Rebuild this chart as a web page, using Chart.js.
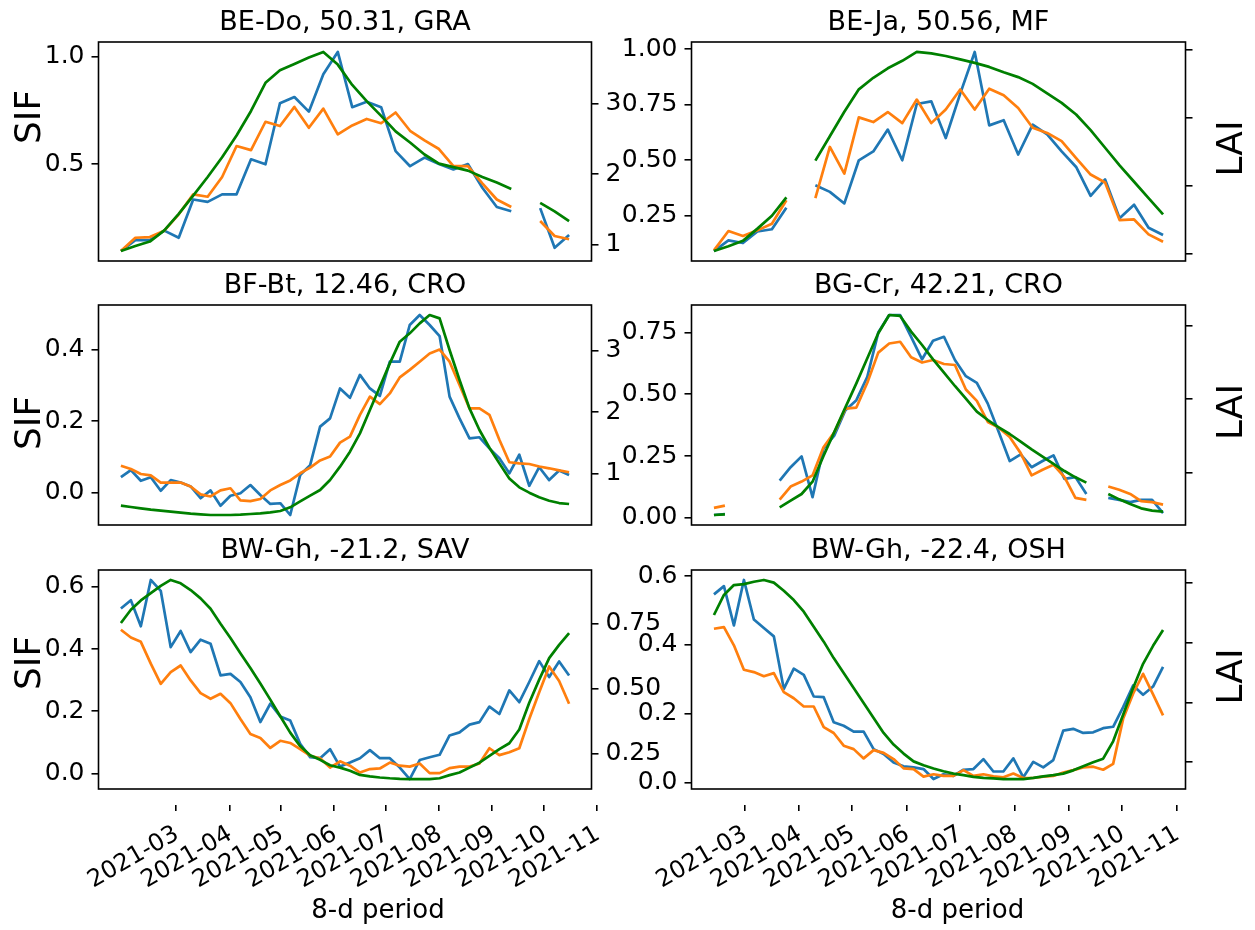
<!DOCTYPE html>
<html>
<head>
<meta charset="utf-8">
<script src="https://cdn.jsdelivr.net/npm/chart.js"></script>
<style>
  body { margin: 0; background: #fff; }
  #fig { position: relative; width: 1255px; height: 930px; overflow: hidden; background: #fff; }
  #fig canvas { position: absolute; }
</style>
</head>
<body>
<div id="fig"></div>
<script>
// ---- data: one value per 8-day period, null = missing ----
// BE-Do, 50.31, GRA
const BEDO_SIF1 = [0.095,0.146,0.146,0.19,0.157,0.335,0.324,0.359,0.359,0.522,0.499,0.783,0.812,0.744,0.918,1.022,0.765,0.79,0.765,0.56,0.49,0.53,0.50,0.475,0.50,0.39,0.30,0.28,null,0.295,0.11,0.17];
const BEDO_SIF2 = [0.095,0.157,0.16,0.19,0.266,0.359,0.348,0.44,0.584,0.565,0.697,0.677,0.766,0.669,0.758,0.638,0.68,0.71,0.69,0.74,0.655,0.61,0.57,0.49,0.49,0.41,0.335,0.30,null,0.235,0.165,0.15];
const BEDO_LAI  = [0.905,0.976,1.04,1.20,1.435,1.695,1.96,2.24,2.55,2.90,3.30,3.48,3.57,3.66,3.74,3.56,3.27,3.04,2.83,2.61,2.45,2.28,2.15,2.10,2.05,1.96,1.88,1.79,null,1.59,1.47,1.33];

// BE-Ja, 50.56, MF
const BEJA_SIF1 = [0.092,0.14,0.128,0.18,0.19,0.287,null,0.388,0.358,0.306,0.50,0.54,0.638,0.50,0.753,0.765,0.60,0.80,0.987,0.657,0.68,0.526,0.66,0.616,0.54,0.47,0.34,0.414,0.239,0.30,0.197,0.164];
const BEJA_SIF2 = [0.095,0.182,0.16,0.185,0.215,0.32,null,0.33,0.56,0.44,0.693,0.672,0.717,0.667,0.773,0.667,0.728,0.818,0.728,0.822,0.792,0.735,0.646,0.623,0.586,0.51,0.436,0.40,0.231,0.234,0.167,0.134];
const BEJA_LAI  = [1.04,1.11,1.19,1.37,1.56,1.83,null,2.37,2.73,3.09,3.42,3.59,3.73,3.84,3.97,3.95,3.91,3.86,3.81,3.75,3.67,3.60,3.50,3.36,3.22,3.05,2.82,2.56,2.30,2.06,1.82,1.58];

// BF-Bt, 12.46, CRO
const BFBT_SIF1 = [0.043,0.063,0.033,0.043,0.005,0.035,0.028,0.017,-0.016,0.006,-0.037,-0.009,-0.002,0.021,-0.007,-0.032,-0.030,-0.063,0.049,0.077,0.185,0.208,0.292,0.266,0.330,0.292,0.271,0.367,0.367,0.470,0.498,0.470,0.439,0.269,0.208,0.152,0.155,0.124,0.096,0.054,0.106,0.019,0.071,0.035,0.062,0.049];
const BFBT_SIF2 = [0.075,0.066,0.052,0.048,0.028,0.028,0.028,0.017,-0.005,-0.011,0.006,0.012,-0.022,-0.024,-0.018,0.006,0.021,0.034,0.054,0.070,0.090,0.101,0.140,0.157,0.218,0.269,0.248,0.278,0.323,0.344,0.367,0.390,0.401,0.367,0.302,0.236,0.236,0.218,0.148,0.085,0.082,0.080,0.073,0.068,0.062,0.057];
const BFBT_LAI  = [0.473,0.451,0.429,0.408,0.391,0.375,0.359,0.342,0.332,0.321,0.321,0.321,0.326,0.337,0.348,0.364,0.386,0.446,0.543,0.636,0.728,0.891,1.109,1.353,1.652,2.033,2.413,2.793,3.147,3.283,3.446,3.582,3.527,3.011,2.522,2.060,1.707,1.418,1.163,0.918,0.772,0.685,0.609,0.554,0.516,0.500];

// BG-Cr, 42.21, CRO
const BGCR_SIF1 = [0.012,0.016,null,null,null,null,0.151,0.205,0.249,0.084,0.280,0.334,0.435,0.476,0.570,0.749,0.820,0.820,0.732,0.641,0.716,0.732,0.638,0.573,0.546,0.462,0.347,0.230,0.257,0.205,0.230,0.253,0.158,0.165,0.097,null,0.081,0.073,0.064,0.073,0.073,0.020];
const BGCR_SIF2 = [0.041,0.050,null,null,null,null,0.074,0.127,0.147,0.172,0.286,0.347,0.442,0.446,0.546,0.668,0.705,0.712,0.649,0.628,0.638,0.622,0.618,0.519,0.473,0.388,0.365,0.327,0.262,0.172,0.195,0.215,0.165,0.081,0.073,null,0.127,0.114,0.097,0.068,0.064,0.054];
const BGCR_LAI  = [0.417,0.426,null,null,null,null,0.522,0.613,0.704,0.872,1.223,1.556,1.888,2.216,2.558,2.900,3.150,3.137,2.923,2.740,2.544,2.362,2.180,2.007,1.829,1.715,1.615,1.524,1.419,1.314,1.214,1.114,1.018,0.932,0.859,null,0.704,0.631,0.567,0.508,0.476,0.462];

// BW-Gh, -21.2, SAV
const BWSAV_SIF1 = [0.530,0.557,0.473,0.622,0.587,0.406,0.458,0.390,0.430,0.417,0.315,0.320,0.294,0.245,0.165,0.224,0.183,0.170,0.095,0.052,0.049,0.078,0.022,0.035,0.049,0.075,0.049,0.049,0.019,-0.018,0.043,0.052,0.060,0.122,0.132,0.157,0.165,0.215,0.191,0.267,0.229,0.294,0.361,0.310,0.360,0.315];
const BWSAV_SIF2 = [0.462,0.437,0.423,0.353,0.288,0.326,0.347,0.299,0.258,0.240,0.256,0.226,0.175,0.127,0.114,0.082,0.105,0.098,0.078,0.057,0.049,0.019,0.039,0.025,0.003,0.014,0.016,0.035,0.025,0.022,0.032,0.001,0.001,0.017,0.022,0.022,0.032,0.081,0.059,0.068,0.081,0.175,0.261,0.344,0.297,0.224];
const BWSAV_LAI  = [0.753,0.804,0.840,0.868,0.896,0.919,0.906,0.880,0.848,0.808,0.750,0.695,0.637,0.580,0.520,0.458,0.394,0.331,0.279,0.244,0.226,0.205,0.196,0.184,0.168,0.162,0.158,0.155,0.153,0.152,0.152,0.152,0.155,0.167,0.177,0.196,0.215,0.241,0.267,0.290,0.343,0.446,0.535,0.618,0.669,0.714];

// BW-Gh, -22.4, OSH
const BWOSH_SIF1 = [0.547,0.571,0.457,0.589,0.474,0.449,0.425,0.272,0.331,0.313,0.250,0.248,0.175,0.165,0.148,0.148,0.097,0.083,0.058,0.047,0.044,0.039,0.010,0.024,0.019,0.037,0.039,0.068,0.032,0.032,0.070,0.015,0.060,0.044,0.065,0.151,0.156,0.144,0.146,0.158,0.162,0.219,0.282,0.255,0.279,0.336];
const BWOSH_SIF2 = [0.447,0.452,0.399,0.328,0.321,0.309,0.318,0.263,0.245,0.221,0.221,0.161,0.144,0.107,0.097,0.070,0.094,0.086,0.068,0.041,0.039,0.017,0.024,0.019,0.019,0.036,0.019,0.024,0.018,0.015,0.026,0.013,0.013,0.017,0.019,0.029,0.036,0.044,0.046,0.037,0.054,0.185,0.258,0.316,0.256,0.195];
const BWOSH_LAI  = [0.692,0.759,0.792,0.795,0.803,0.809,0.80,0.773,0.742,0.703,0.653,0.603,0.548,0.498,0.448,0.398,0.348,0.298,0.259,0.229,0.203,0.190,0.179,0.170,0.162,0.157,0.151,0.148,0.146,0.144,0.144,0.144,0.148,0.153,0.157,0.162,0.173,0.187,0.200,0.212,0.270,0.359,0.448,0.529,0.589,0.642];

// ---- tick values and labels ----
const BEDO_SIF_TICKS = [0.5, 1.0],              BEDO_SIF_LABELS = ['0.5', '1.0'];
const BEDO_LAI_TICKS = [1, 2, 3],               BEDO_LAI_LABELS = ['1', '2', '3'];
const BEJA_SIF_TICKS = [0.25, 0.5, 0.75, 1.0],  BEJA_SIF_LABELS = ['0.25', '0.50', '0.75', '1.00'];
const BEJA_LAI_TICKS = [1, 2, 3, 4];
const BFBT_SIF_TICKS = [0, 0.2, 0.4],           BFBT_SIF_LABELS = ['0.0', '0.2', '0.4'];
const BFBT_LAI_TICKS = [1, 2, 3],               BFBT_LAI_LABELS = ['1', '2', '3'];
const BGCR_SIF_TICKS = [0, 0.25, 0.5, 0.75],    BGCR_SIF_LABELS = ['0.00', '0.25', '0.50', '0.75'];
const BGCR_LAI_TICKS = [1, 2, 3];
const BWSAV_SIF_TICKS = [0, 0.2, 0.4, 0.6],     BWSAV_SIF_LABELS = ['0.0', '0.2', '0.4', '0.6'];
const BWSAV_LAI_TICKS = [0.25, 0.5, 0.75],      BWSAV_LAI_LABELS = ['0.25', '0.50', '0.75'];
const BWOSH_SIF_TICKS = [0, 0.2, 0.4, 0.6],     BWOSH_SIF_LABELS = ['0.0', '0.2', '0.4', '0.6'];
const BWOSH_LAI_TICKS = [0.2, 0.4, 0.6, 0.8];

// date axis: days after 2021-03-01
const DATE_TICKS = [0, 31, 61, 92, 122, 153, 184, 214, 245];
const DATE_LABELS = ['2021-03', '2021-04', '2021-05', '2021-06', '2021-07', '2021-08', '2021-09', '2021-10', '2021-11'];

// ---- layout ----
const COLS = [
  { x: 0,   w: 690, boxL: 98.5,  boxR: 591.5 },
  { x: 600, w: 655, boxL: 691.5, boxR: 1185.5 }
];
const ROWS = [
  { top: 42,  bottom: 261, sifY: 117 },
  { top: 305, bottom: 525, sifY: 423 },
  { top: 570, bottom: 789, sifY: 663 }
];
const TITLE_H = 42, BOTTOM_PAD = 16;
const FONT = 'DejaVu Sans';
const TICK_SIZE = 25;

Chart.defaults.font.family = FONT;
Chart.defaults.color = '#000';

const PANELS = [
  { title: 'BE-Do, 50.31, GRA', col: 0, row: 0, s1: BEDO_SIF1, s2: BEDO_SIF2, lai: BEDO_LAI,
    sifTicks: BEDO_SIF_TICKS, sifLabels: BEDO_SIF_LABELS, laiTicks: BEDO_LAI_TICKS, laiLabels: BEDO_LAI_LABELS },
  { title: 'BE-Ja, 50.56, MF', col: 1, row: 0, s1: BEJA_SIF1, s2: BEJA_SIF2, lai: BEJA_LAI,
    sifTicks: BEJA_SIF_TICKS, sifLabels: BEJA_SIF_LABELS, laiTicks: BEJA_LAI_TICKS, laiLabels: null },
  { title: 'BF-Bt, 12.46, CRO', col: 0, row: 1, s1: BFBT_SIF1, s2: BFBT_SIF2, lai: BFBT_LAI,
    sifTicks: BFBT_SIF_TICKS, sifLabels: BFBT_SIF_LABELS, laiTicks: BFBT_LAI_TICKS, laiLabels: BFBT_LAI_LABELS },
  { title: 'BG-Cr, 42.21, CRO', col: 1, row: 1, s1: BGCR_SIF1, s2: BGCR_SIF2, lai: BGCR_LAI,
    sifTicks: BGCR_SIF_TICKS, sifLabels: BGCR_SIF_LABELS, laiTicks: BGCR_LAI_TICKS, laiLabels: null },
  { title: 'BW-Gh, -21.2, SAV', col: 0, row: 2, s1: BWSAV_SIF1, s2: BWSAV_SIF2, lai: BWSAV_LAI,
    sifTicks: BWSAV_SIF_TICKS, sifLabels: BWSAV_SIF_LABELS, laiTicks: BWSAV_LAI_TICKS, laiLabels: BWSAV_LAI_LABELS },
  { title: 'BW-Gh, -22.4, OSH', col: 1, row: 2, s1: BWOSH_SIF1, s2: BWOSH_SIF2, lai: BWOSH_LAI,
    sifTicks: BWOSH_SIF_TICKS, sifLabels: BWOSH_SIF_LABELS, laiTicks: BWOSH_LAI_TICKS, laiLabels: null }
];

// matplotlib-like autoscale: data range plus 5% each side
function padRange(arrs) {
  const v = arrs.flat().filter(x => x !== null);
  const lo = Math.min(...v), hi = Math.max(...v), m = (hi - lo) * 0.05;
  return [lo - m, hi + m];
}
const toXY = arr => arr.map((y, i) => ({ x: i, y: y }));

const framePlugin = {
  id: 'frame',
  afterDatasetsDraw(chart) {
    const { ctx, chartArea: a } = chart;
    ctx.save();
    ctx.strokeStyle = '#000';
    ctx.lineWidth = 1.6;
    ctx.strokeRect(a.left, a.top, a.right - a.left, a.bottom - a.top);
    ctx.restore();
  }
};

// vertical axis names (both read bottom-to-top)
const sideLabelPlugin = {
  id: 'sideLabel',
  afterDraw(chart, args, opts) {
    if (!opts.text) return;
    const ctx = chart.ctx;
    ctx.save();
    ctx.font = '36px "' + FONT + '"';
    ctx.fillStyle = '#000';
    ctx.textAlign = 'center';
    ctx.textBaseline = 'middle';
    ctx.translate(opts.x, opts.y);
    ctx.rotate(-Math.PI / 2);
    ctx.fillText(opts.text, 0, 0);
    ctx.restore();
  }
};

const fig = document.getElementById('fig');
function addCanvas(x, y, w, h) {
  const cv = document.createElement('canvas');
  cv.width = w; cv.height = h;
  cv.style.left = x + 'px'; cv.style.top = y + 'px';
  cv.style.width = w + 'px'; cv.style.height = h + 'px';
  fig.appendChild(cv);
  return cv;
}

const tickGrid = { drawOnChartArea: false, drawTicks: true, tickLength: 7, color: '#000', lineWidth: 1.6, tickWidth: 1.6 };

PANELS.forEach(p => {
  const col = COLS[p.col], row = ROWS[p.row];
  const top = row.top - TITLE_H;
  const h = row.bottom - row.top + TITLE_H + BOTTOM_PAD;
  const cv = addCanvas(col.x, top, col.w, h);
  const n = p.s1.length;
  const sifRange = padRange([p.s1, p.s2]);
  const laiRange = padRange([p.lai]);

  const side = p.col === 0
    ? { text: 'SIF', x: 31 - col.x, y: row.sifY - top }
    : { text: 'LAI', x: 1233 - col.x, y: (row.top + row.bottom) / 2 - 3 - top };

  new Chart(cv, {
    type: 'line',
    data: {
      datasets: [
        { label: 'LAI', data: toXY(p.lai), yAxisID: 'y1', borderColor: '#008000', order: 0 },
        { label: 'SIF b', data: toXY(p.s2), yAxisID: 'y', borderColor: '#ff7f0e', order: 1 },
        { label: 'SIF a', data: toXY(p.s1), yAxisID: 'y', borderColor: '#1f77b4', order: 2 }
      ]
    },
    options: {
      responsive: false,
      animation: false,
      devicePixelRatio: 1,
      layout: { padding: { top: 0, bottom: BOTTOM_PAD, left: 0, right: 0 } },
      elements: {
        point: { radius: 0 },
        line: { borderWidth: 2.7, tension: 0, borderJoinStyle: 'round', fill: false }
      },
      plugins: {
        legend: { display: false },
        tooltip: { enabled: false },
        title: {
          display: true, text: p.title, fullSize: false, color: '#000',
          font: { family: FONT, size: 27, weight: 'normal' },
          padding: { top: 6.3, bottom: 3.3 }
        },
        sideLabel: side
      },
      scales: {
        x: { type: 'linear', display: false, min: -0.05 * (n - 1), max: 1.05 * (n - 1) },
        y: {
          position: 'left', min: sifRange[0], max: sifRange[1],
          afterBuildTicks: s => { s.ticks = p.sifTicks.map(v => ({ value: v })); },
          afterFit: s => { s.width = col.boxL - col.x; s.paddingTop = 0; s.paddingBottom = 0; },
          ticks: { padding: 7, autoSkip: false, color: '#000', font: { size: TICK_SIZE },
                   callback: (v, i) => p.sifLabels[i] },
          grid: tickGrid,
          border: { display: false }
        },
        y1: {
          position: 'right', min: laiRange[0], max: laiRange[1],
          afterBuildTicks: s => { s.ticks = p.laiTicks.map(v => ({ value: v })); },
          afterFit: s => { s.width = col.x + col.w - col.boxR; s.paddingTop = 0; s.paddingBottom = 0; },
          ticks: { display: !!p.laiLabels, padding: 7, autoSkip: false, color: '#000', font: { size: TICK_SIZE },
                   callback: (v, i) => p.laiLabels ? p.laiLabels[i] : '' },
          grid: tickGrid,
          border: { display: false }
        }
      }
    },
    plugins: [framePlugin, sideLabelPlugin]
  });
});

// ---- date axes under the bottom row ----
const DATE_AXES = [
  { x: 0,   w: 690, areaL: 150, areaR: 606,  firstPx: 176.1, lastPx: 597.1 },
  { x: 600, w: 655, areaL: 732, areaR: 1183, firstPx: 744.4, lastPx: 1176.6 }
];
const DATE_TOP = 795, DATE_H = 135, DATE_AXIS_H = 125;

DATE_AXES.forEach(d => {
  const cv = addCanvas(d.x, DATE_TOP, d.w, DATE_H);
  const pxPerDay = (d.lastPx - d.firstPx) / (DATE_TICKS[DATE_TICKS.length - 1] - DATE_TICKS[0]);
  const min = DATE_TICKS[0] + (d.areaL - d.firstPx) / pxPerDay;
  const max = DATE_TICKS[0] + (d.areaR - d.firstPx) / pxPerDay;
  new Chart(cv, {
    type: 'line',
    data: { datasets: [] },
    options: {
      responsive: false,
      animation: false,
      devicePixelRatio: 1,
      layout: { padding: { left: d.areaL - d.x, right: d.x + d.w - d.areaR, top: 0, bottom: 0 } },
      plugins: { legend: { display: false }, tooltip: { enabled: false } },
      scales: {
        x: {
          type: 'linear', position: 'bottom', min: min, max: max,
          afterBuildTicks: s => { s.ticks = DATE_TICKS.map(v => ({ value: v })); },
          afterFit: s => { s.height = DATE_AXIS_H; s.paddingLeft = 0; s.paddingRight = 0; },
          ticks: {
            minRotation: 30, maxRotation: 30, autoSkip: false, padding: 9, labelOffset: 1,
            color: '#000', font: { size: 24 },
            callback: (v, i) => DATE_LABELS[i]
          },
          grid: { drawOnChartArea: false, drawTicks: true, tickLength: 6, color: '#000', lineWidth: 1.6, tickWidth: 1.6 },
          border: { display: false },
          title: { display: true, text: '8-d period', color: '#000', font: { size: 26 }, padding: { top: 0, bottom: 3 } }
        },
        y: { display: false }
      }
    }
  });
});
</script>
</body>
</html>
